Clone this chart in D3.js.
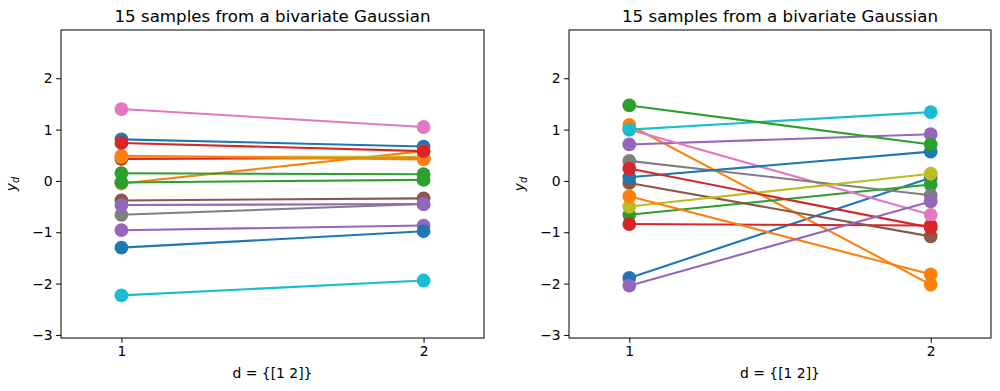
<!DOCTYPE html>
<html>
<head>
<meta charset="utf-8">
<script src="https://cdn.jsdelivr.net/npm/d3@7"></script>
<style>
  html, body { margin: 0; padding: 0; background: #fff; }
  svg { display: block; font-family: "DejaVu Sans", sans-serif; }
</style>
</head>
<body>
<svg id="chart" width="1000" height="391"></svg>
<script>
// ---- data ----
const xValues = [1, 2];
const xTicks = [1, 2];
const yTicks = [-3, -2, -1, 0, 1, 2];
const colors = ["#1f77b4", "#ff7f0e", "#2ca02c", "#d62728", "#9467bd",
                "#8c564b", "#e377c2", "#7f7f7f", "#bcbd22", "#17becf",
                "#1f77b4", "#ff7f0e", "#2ca02c", "#d62728", "#9467bd"];
// left panel: [value at d=1, value at d=2] for each of 15 samples
const leftSamples = [
  [0.81, 0.67], [-0.05, 0.58], [-0.03, 0.02], [0.43, 0.45], [-0.96, -0.87],
  [-0.38, -0.34], [1.40, 1.05], [-0.66, -0.45], [0.47, 0.47], [-2.23, -1.94],
  [-1.30, -0.98], [0.49, 0.42], [0.15, 0.13], [0.74, 0.58], [-0.47, -0.45]
];
// right panel
const rightSamples = [
  [-1.89, 0.06], [1.09, -2.02], [-0.66, -0.07], [-0.84, -0.87], [0.71, 0.91],
  [-0.04, -1.08], [1.00, -0.66], [0.39, -0.28], [-0.50, 0.14], [1.00, 1.34],
  [0.07, 0.57], [-0.30, -1.82], [1.47, 0.71], [0.24, -0.91], [-2.04, -0.40]
];
const titleText = "15 samples from a bivariate Gaussian";
const xLabelText = "d = {[1 2]}";

// ---- layout ----
const svg = d3.select("#chart");
const panels = [
  { left: 61, right: 484, data: leftSamples },
  { left: 569, right: 991, data: rightSamples }
];
const plotTop = 30, plotBottom = 338;
const fmt = d => (d < 0 ? "\u2212" + Math.abs(d) : String(d));

panels.forEach(p => {
  const x = d3.scaleLinear().domain([0.8, 2.2]).range([p.left, p.right]);
  const y = d3.scaleLinear().domain([-3.06, 2.94]).range([plotBottom, plotTop]);
  const g = svg.append("g");

  // lines + markers
  const line = d3.line().x((d, i) => x(xValues[i])).y(d => y(d));
  p.data.forEach((s, i) => {
    const sg = g.append("g");
    sg.append("path").attr("d", line(s)).attr("fill", "none")
      .attr("stroke", colors[i]).attr("stroke-width", 2.08);
    sg.selectAll("circle").data(s).enter().append("circle")
      .attr("cx", (d, j) => x(xValues[j])).attr("cy", d => y(d))
      .attr("r", 6.9).attr("fill", colors[i]);
  });

  // axes
  const xAxis = d3.axisBottom(x).tickValues(xTicks).tickFormat(d3.format("d"))
    .tickSize(4.86).tickPadding(3.5);
  const yAxis = d3.axisLeft(y).tickValues(yTicks).tickFormat(fmt)
    .tickSize(4.86).tickPadding(3.5);
  const gx = g.append("g").attr("transform", `translate(0,${plotBottom})`).call(xAxis);
  const gy = g.append("g").attr("transform", `translate(${p.left},0)`).call(yAxis);
  [gx, gy].forEach(a => {
    a.select(".domain").remove();
    a.selectAll("text").attr("font-size", 13.9).attr("fill", "#000")
      .attr("font-family", "DejaVu Sans");
    a.selectAll("line").attr("stroke", "#000").attr("stroke-width", 1);
  });

  // frame
  g.append("rect").attr("x", p.left).attr("y", plotTop)
    .attr("width", p.right - p.left).attr("height", plotBottom - plotTop)
    .attr("fill", "none").attr("stroke", "#000").attr("stroke-width", 1);

  // title
  const cx = (p.left + p.right) / 2;
  g.append("text").attr("x", cx).attr("y", 22).attr("text-anchor", "middle")
    .attr("font-size", 16.67).text(titleText);
  // x label
  g.append("text").attr("x", cx).attr("y", 378).attr("text-anchor", "middle")
    .attr("font-size", 13.9).text(xLabelText);
  // y label
  const yl = g.append("text")
    .attr("transform", `translate(${p.left - 45},${(plotTop + plotBottom) / 2}) rotate(-90)`)
    .attr("text-anchor", "middle").attr("font-size", 13.9).attr("font-style", "italic");
  yl.append("tspan").text("y");
  yl.append("tspan").attr("font-size", 9.7).attr("dy", 3).text("d");
});
</script>
</body>
</html>
